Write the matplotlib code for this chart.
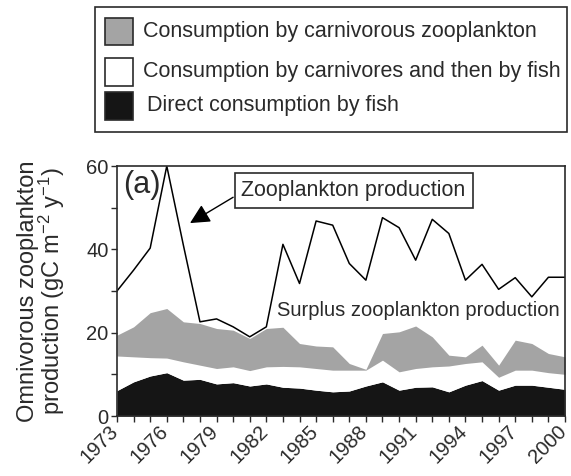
import numpy as np
import matplotlib
matplotlib.use('Agg')
import matplotlib.pyplot as plt
import matplotlib.transforms as mtransforms
from matplotlib.patches import Rectangle

plt.rcParams['font.family'] = ['Liberation Sans', 'DejaVu Sans']
plt.rcParams['mathtext.fontset'] = 'custom'
plt.rcParams['mathtext.rm'] = 'Liberation Sans'
plt.rcParams['mathtext.it'] = 'Liberation Sans'

years = np.arange(1973, 2001)
# omnivorous zooplankton production (gC m-2 y-1)
production = [30.0, 35.0, 40.3, 60.0, 41.0, 22.6, 23.3, 21.4, 19.0, 21.4,
              41.2, 31.8, 46.8, 45.8, 36.6, 32.6, 47.6, 45.2, 37.4, 47.2,
              43.8, 32.6, 36.4, 30.4, 33.2, 28.6, 33.3, 33.3]
# consumption components, stacked from the bottom
direct_fish = [6.1, 8.2, 9.6, 10.4, 8.6, 8.8, 7.7, 8.0, 7.2, 7.7,
               6.9, 6.7, 6.2, 5.8, 6.0, 7.2, 8.2, 6.2, 6.9, 7.0,
               5.8, 7.4, 8.5, 6.2, 7.4, 7.4, 6.9, 6.4]
carnivores_then_fish = [8.3, 6.0, 4.4, 3.5, 4.4, 3.4, 3.7, 3.8, 3.7, 4.1,
                        5.0, 5.1, 5.2, 5.2, 5.0, 3.8, 5.2, 4.4, 4.5, 4.8,
                        6.2, 5.2, 4.5, 3.1, 3.6, 3.6, 3.5, 3.6]
carnivorous_zoo = [5.0, 7.2, 10.8, 11.9, 9.6, 10.0, 9.6, 8.8, 7.7, 9.2,
                   9.4, 5.6, 5.4, 5.6, 1.6, 0.2, 6.4, 9.6, 10.2, 7.2,
                   2.6, 1.6, 4.0, 2.9, 7.2, 6.4, 4.6, 4.2]

legend_labels = ['Consumption by carnivorous zooplankton',
                 'Consumption by carnivores and then by fish',
                 'Direct consumption by fish']

dark = '#2a2a2a'
grey = '#a4a4a4'
black = '#151515'

fig = plt.figure(figsize=(5.71, 4.76), dpi=100)
W, H = 571.0, 476.0
ax = fig.add_axes([117 / W, 60 / H, 448 / W, 250 / H])

lvl1 = np.array(direct_fish)
lvl2 = lvl1 + np.array(carnivores_then_fish)
lvl3 = lvl2 + np.array(carnivorous_zoo)

ax.plot(years, production, color='black', lw=1.1, zorder=1)
ax.fill_between(years, 0, lvl1, color=black, lw=0, zorder=2)
ax.fill_between(years, lvl1, lvl2, color='white', lw=0, zorder=2)
ax.fill_between(years, lvl2, lvl3, color=grey, lw=0, zorder=2)

ax.set_xlim(1973, 2000)
ax.set_ylim(0, 60)
ax.set_xticks(np.arange(1973, 2001, 3))
ax.set_xticks(years, minor=True)
ax.set_yticks([0, 20, 40, 60])
ax.set_yticks([10, 30, 50], minor=True)
ax.tick_params(which='both', direction='out', length=4, width=1, color=dark,
               labelsize=14.5, labelcolor=dark, pad=2)
ax.tick_params(axis='x', labelsize=14.5, pad=0)
shift = mtransforms.ScaledTranslation(-8 / 100, 0, fig.dpi_scale_trans)
for lab in ax.get_xticklabels():
    lab.set_rotation(45)
    lab.set_ha('right')
    lab.set_va('top')
    lab.set_rotation_mode('anchor')
    lab.set_transform(lab.get_transform() + shift)
for s in ax.spines.values():
    s.set_color(dark)
    s.set_linewidth(1.2)

ax.set_ylabel('Omnivorous zooplankton\nproduction (gC m$^{-2}$ y$^{-1}$)',
              fontsize=17, color=dark, labelpad=14, linespacing=0.88)

ax.text(1973.36, 55.4, '(a)', fontsize=22, color=dark, va='center', ha='left')
ax.text(1987.26, 54.2, 'Zooplankton production', fontsize=15.5, color=dark,
        ha='center', va='center',
        bbox=dict(boxstyle='square,pad=0.32', fc='white', ec=dark, lw=1.2))
ax.annotate('', xy=(1977.4, 46.3), xytext=(1980.0, 52.5),
            arrowprops=dict(arrowstyle='-|>,head_length=1.0,head_width=0.5',
                            color='black', lw=1, shrinkA=0, shrinkB=0,
                            mutation_scale=12))
ax.text(1999.7, 25.4, 'Surplus zooplankton production', fontsize=14.5,
        color=dark, ha='right', va='center')

# legend box above the axes
fig.add_artist(Rectangle((95 / W, 1 - 132 / H), 472 / W, 125 / H,
                         transform=fig.transFigure, fill=False, ec=dark, lw=1.2))
rows = [(31.5, grey, 143), (72, 'white', 143), (106, black, 147)]
for (yc, fc, tx), lab in zip(rows, legend_labels):
    fig.add_artist(Rectangle((105 / W, 1 - (yc + 13.5) / H), 28 / W, 27 / H,
                             transform=fig.transFigure, fc=fc, ec=dark, lw=1.2))
    fig.text(tx / W, 1 - yc / H, lab, fontsize=15.5, color=dark,
             ha='left', va='center')

fig.savefig('out.png', dpi=100)
